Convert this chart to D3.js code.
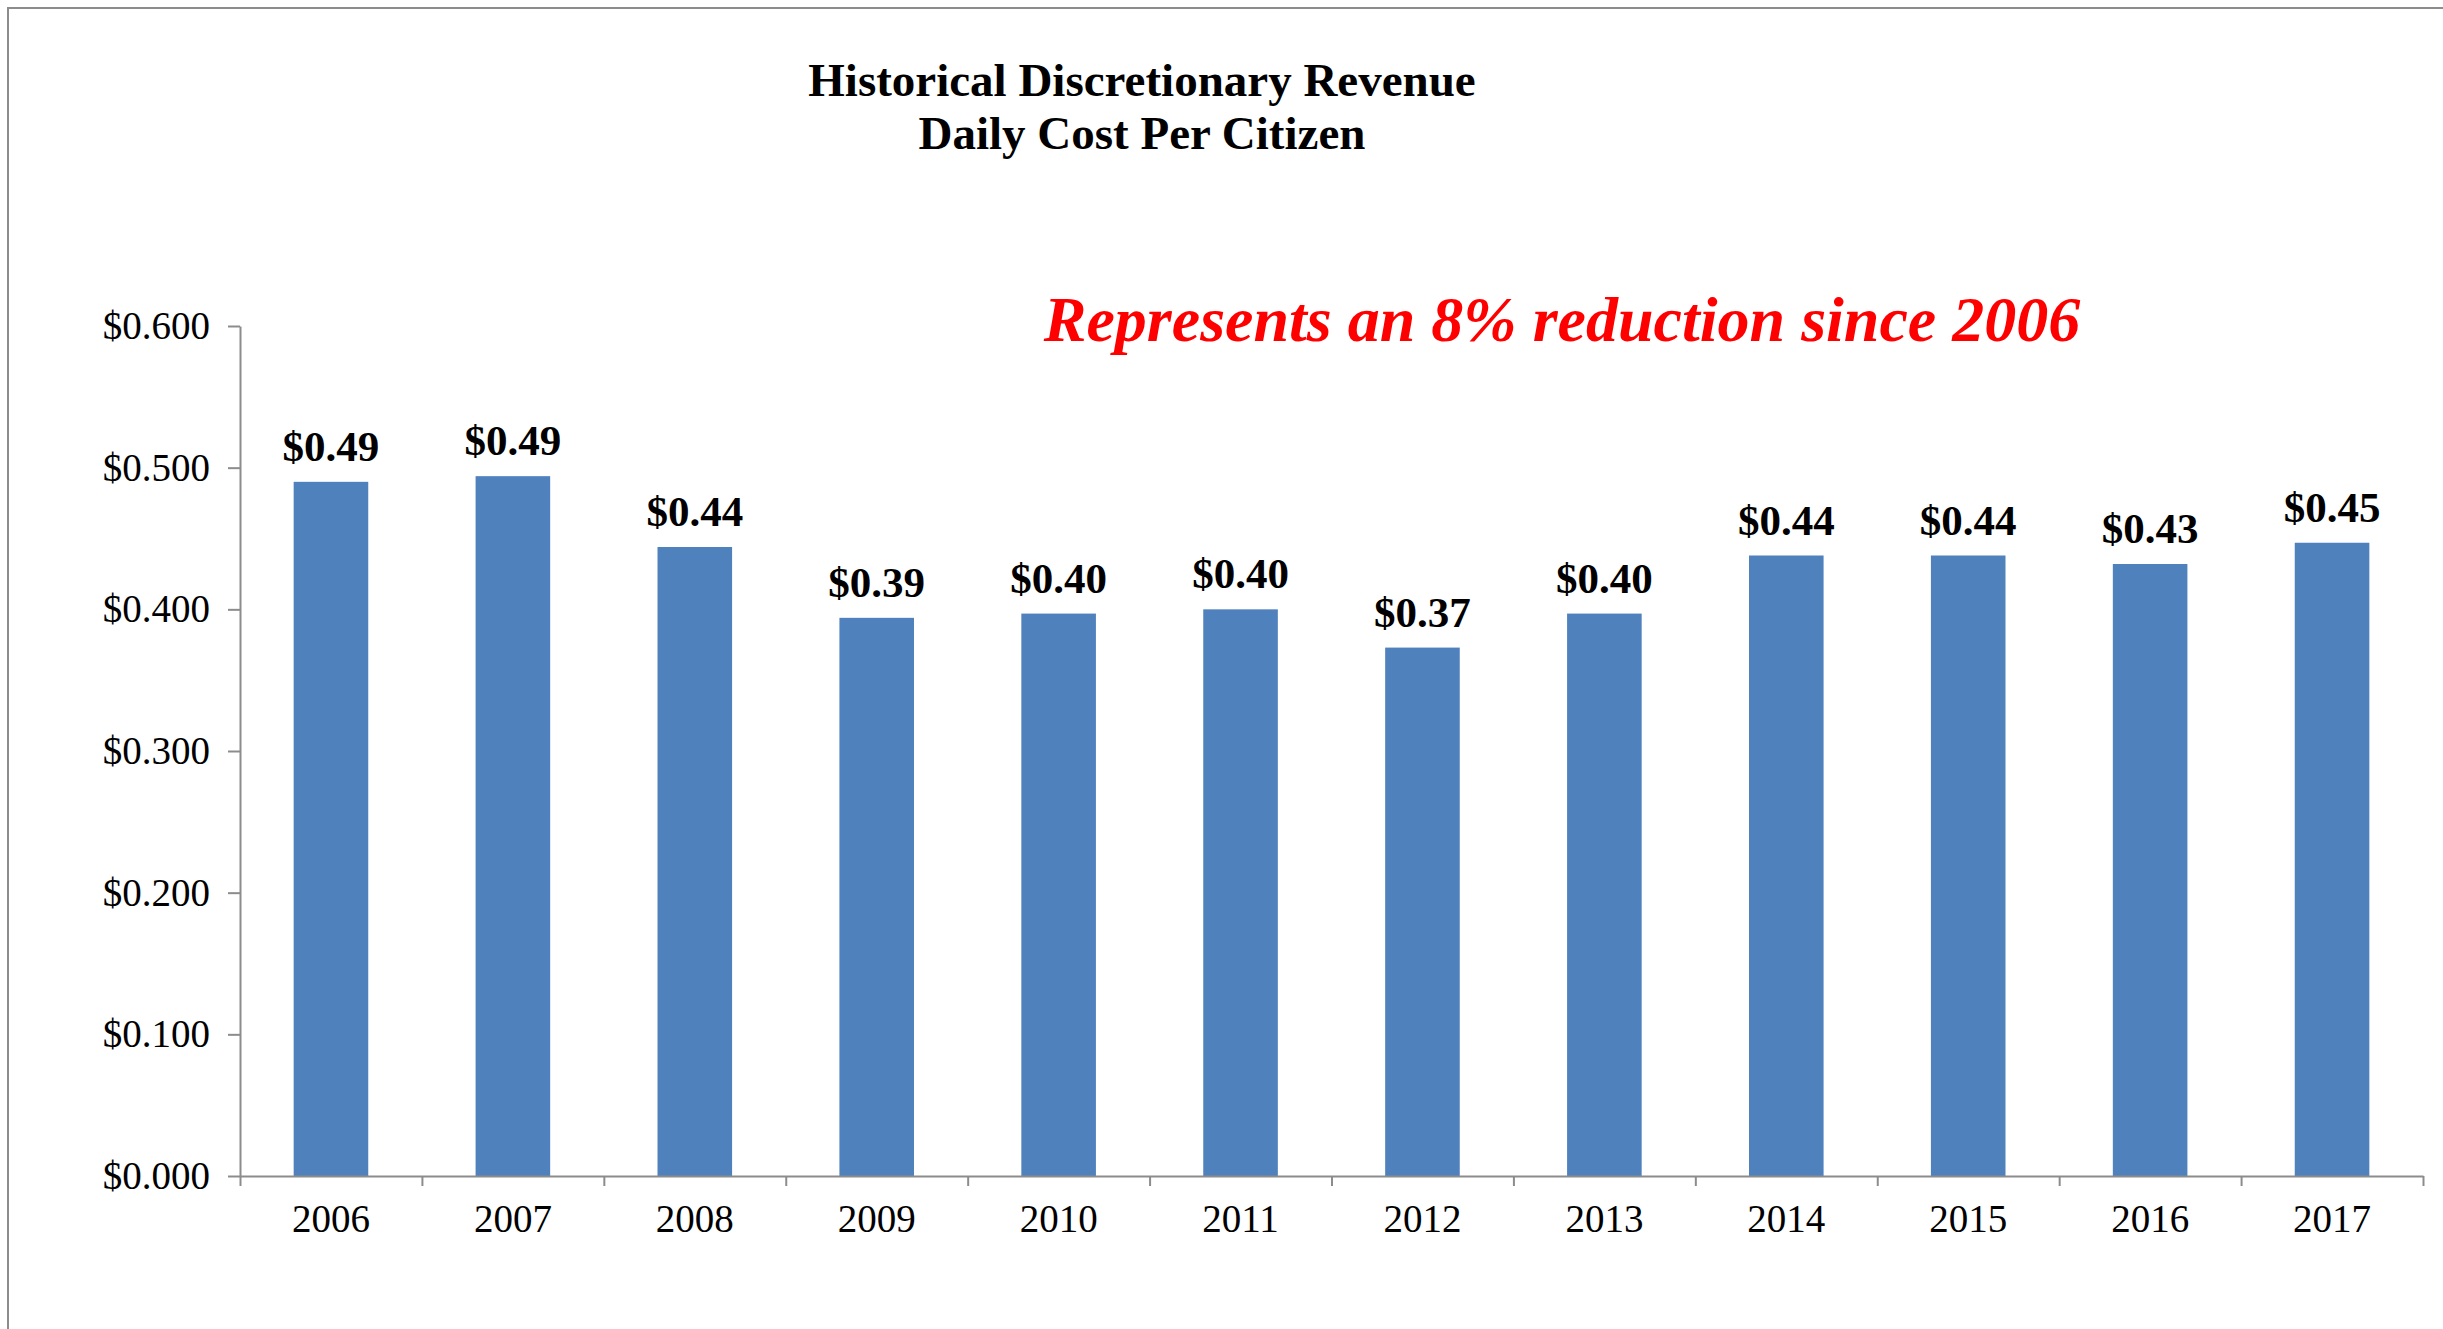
<!DOCTYPE html>
<html>
<head>
<meta charset="utf-8">
<script src="https://cdn.jsdelivr.net/npm/d3@7"></script>
<style>
  body { margin: 0; background: #fff; }
  svg { display: block; font-family: "Liberation Serif", "Times New Roman", serif; }
  .axis path, .axis line { stroke: #8c8c8c; stroke-width: 2; }
</style>
</head>
<body>
<div id="chart"></div>
<script>
// data
const years = ["2006", "2007", "2008", "2009", "2010", "2011", "2012", "2013", "2014", "2015", "2016", "2017"];
const costs = [0.490, 0.494, 0.444, 0.394, 0.397, 0.400, 0.373, 0.397, 0.438, 0.438, 0.432, 0.447];
const yTicks = [0, 0.1, 0.2, 0.3, 0.4, 0.5, 0.6];
const titleLines = ["Historical Discretionary Revenue", "Daily Cost Per Citizen"];
const note = "Represents an 8% reduction since 2006";

const W = 2443, H = 1329;
const plot = { left: 240, right: 2423, top: 326, bottom: 1176 };

const svg = d3.select("#chart")
  .append("svg")
  .attr("width", W)
  .attr("height", H);

// outer frame (runs off the right and bottom edges)
svg.append("rect")
  .attr("x", 8).attr("y", 8)
  .attr("width", W + 20).attr("height", H + 20)
  .attr("fill", "none")
  .attr("stroke", "#8c8c8c")
  .attr("stroke-width", 2);

const x = d3.scaleBand()
  .domain(years)
  .range([plot.left, plot.right])
  .paddingInner(0.59)
  .paddingOuter(0.295);

const y = d3.scaleLinear()
  .domain([0, 0.6])
  .range([plot.bottom, plot.top]);

// bars
svg.selectAll("rect.bar")
  .data(years)
  .enter()
  .append("rect")
  .attr("class", "bar")
  .attr("x", d => x(d))
  .attr("y", (d, i) => y(costs[i]))
  .attr("width", x.bandwidth())
  .attr("height", (d, i) => y(0) - y(costs[i]))
  .attr("fill", "#4f81bd");

// value labels
svg.selectAll("text.val")
  .data(years)
  .enter()
  .append("text")
  .attr("class", "val")
  .attr("x", d => x(d) + x.bandwidth() / 2)
  .attr("y", (d, i) => y(costs[i]) - 21)
  .attr("text-anchor", "middle")
  .attr("font-weight", "bold")
  .attr("font-size", 43)
  .text((d, i) => "$" + d3.format(".2f")(costs[i]));

// y axis
const yAxis = svg.append("g")
  .attr("class", "axis")
  .attr("transform", "translate(" + plot.left + ",0)")
  .call(d3.axisLeft(y)
    .tickValues(yTicks)
    .tickSizeInner(12)
    .tickSizeOuter(0)
    .tickPadding(18)
    .tickFormat(d => "$" + d3.format(".3f")(d)));
yAxis.attr("font-family", null).attr("font-size", 39);
yAxis.selectAll("text").attr("fill", "#000");

// x axis: tick marks sit between categories
const xEdges = d3.scaleLinear().domain([0, years.length]).range([plot.left, plot.right]);
svg.append("g")
  .attr("class", "axis")
  .attr("transform", "translate(0," + plot.bottom + ")")
  .call(d3.axisBottom(xEdges)
    .tickValues(d3.range(0, years.length + 1))
    .tickSizeInner(10)
    .tickSizeOuter(0)
    .tickFormat(""));

// x labels
const xAxis = svg.append("g")
  .attr("class", "axis")
  .attr("transform", "translate(0," + plot.bottom + ")")
  .call(d3.axisBottom(x).tickSize(0).tickPadding(28));
xAxis.select(".domain").remove();
xAxis.attr("font-family", null).attr("font-size", 39);
xAxis.selectAll("text").attr("fill", "#000");

// title
svg.append("g")
  .selectAll("text")
  .data(titleLines)
  .enter()
  .append("text")
  .attr("x", 1142)
  .attr("y", (d, i) => 96 + i * 53)
  .attr("text-anchor", "middle")
  .attr("font-weight", "bold")
  .attr("font-size", 47)
  .text(d => d);

// red note
svg.append("text")
  .attr("x", 1562)
  .attr("y", 341)
  .attr("text-anchor", "middle")
  .attr("font-weight", "bold")
  .attr("font-style", "italic")
  .attr("font-size", 64)
  .attr("fill", "#ff0000")
  .text(note);
</script>
</body>
</html>
